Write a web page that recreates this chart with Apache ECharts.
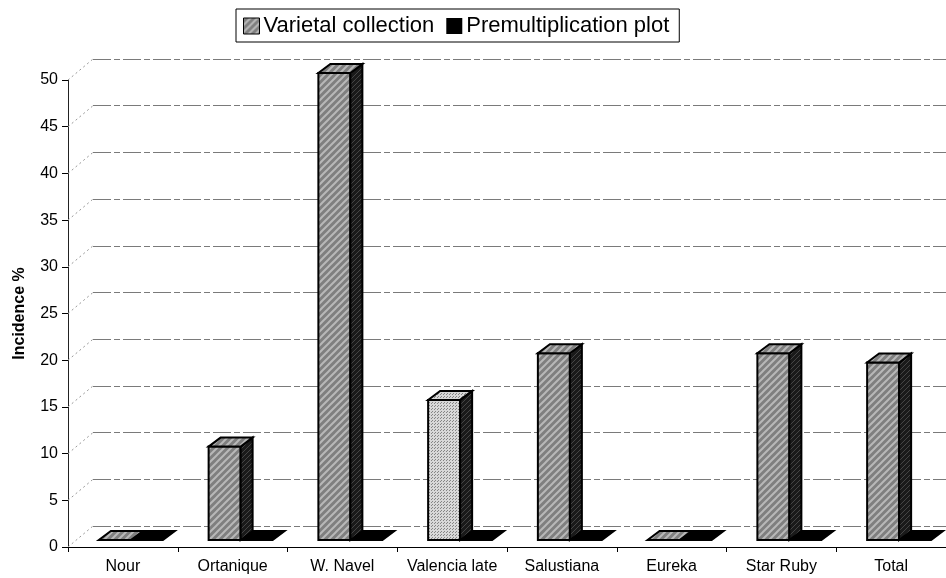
<!DOCTYPE html>
<html>
<head>
<meta charset="utf-8">
<script src="https://cdn.jsdelivr.net/npm/echarts@6/dist/echarts.min.js"></script>
<style>
html, body { margin: 0; padding: 0; background: #fff; }
#chart { width: 946px; height: 578px; }
</style>
</head>
<body>
<div id="chart"></div>
<script>
var categories = ['Nour', 'Ortanique', 'W. Navel', 'Valencia late', 'Salustiana', 'Eureka', 'Star Ruby', 'Total'];
var varietal = [0, 10, 50, 15, 20, 0, 20, 19];   // Varietal collection
var premult = [0, 0, 0, 0, 0, 0, 0, 0];          // Premultiplication plot
var yTicks = [0, 5, 10, 15, 20, 25, 30, 35, 40, 45, 50];

var chart = echarts.init(document.getElementById('chart'), null, { renderer: 'canvas' });

// 3d look: back wall offset and column depth, in px
var WALL_DX = 25, WALL_DY = 21;
var BAR_DX = 12, BAR_DY = 9;
var BAR_W = 32;
var SHIFT_X = 8, SHIFT_Y = 7;

// small canvas textures, like the hatch fills of the old chart
function stripes(bg, fg, size, width) {
    var c = document.createElement('canvas');
    c.width = size; c.height = size;
    var ctx = c.getContext('2d');
    ctx.fillStyle = bg;
    ctx.fillRect(0, 0, size, size);
    ctx.strokeStyle = fg;
    ctx.lineWidth = width;
    ctx.beginPath();
    ctx.moveTo(-1, size + 1); ctx.lineTo(size + 1, -1);
    ctx.moveTo(-1, 1); ctx.lineTo(1, -1);
    ctx.moveTo(size - 1, size + 1); ctx.lineTo(size + 1, size - 1);
    ctx.stroke();
    return { image: c, repeat: 'repeat' };
}
function dots(bg, fg) {
    var c = document.createElement('canvas');
    c.width = 3; c.height = 3;
    var ctx = c.getContext('2d');
    ctx.fillStyle = bg;
    ctx.fillRect(0, 0, 3, 3);
    ctx.fillStyle = fg;
    ctx.fillRect(0, 0, 1, 1);
    ctx.fillRect(2, 1, 1, 1);
    return { image: c, repeat: 'repeat' };
}

var hatch = stripes('#7f7f7f', '#b8b8b8', 7, 2);
var hatchSide = stripes('#1a1a1a', '#454545', 5, 1);
var light = dots('#d8d8d8', '#858585');

function box(offset, black) {
    return function (params, api) {
        var i = api.value(0), v = api.value(1);
        var base = api.coord([i, 0]);
        var top = api.coord([i, v]);
        var x0 = base[0] + SHIFT_X + offset, x1 = x0 + BAR_W;
        var yb = base[1] - SHIFT_Y, yt = top[1] - SHIFT_Y;
        var front = black ? '#000' : (categories[i] === 'Valencia late' ? light : hatch);
        var side = black ? '#000' : hatchSide;
        var kids = [];
        if (yb - yt > 0.5) {
            kids.push({
                type: 'rect',
                shape: { x: x0, y: yt, width: BAR_W, height: yb - yt },
                style: { fill: front, stroke: '#000', lineWidth: 2 }
            });
            kids.push({
                type: 'polygon',
                shape: { points: [[x1, yt], [x1 + BAR_DX, yt - BAR_DY], [x1 + BAR_DX, yb - BAR_DY], [x1, yb]] },
                style: { fill: side, stroke: '#000', lineWidth: 2 }
            });
        }
        kids.push({
            type: 'polygon',
            shape: { points: [[x0, yt], [x1, yt], [x1 + BAR_DX, yt - BAR_DY], [x0 + BAR_DX, yt - BAR_DY]] },
            style: { fill: front, stroke: '#000', lineWidth: 2 }
        });
        return { type: 'group', children: kids };
    };
}

var option = {
    backgroundColor: '#fff',
    textStyle: { fontFamily: 'Arial, "Liberation Sans", sans-serif', color: '#000' },
    legend: {
        data: [
            { name: 'Varietal collection', itemStyle: { color: hatch, borderColor: '#000', borderWidth: 1 } },
            { name: 'Premultiplication plot', itemStyle: { color: '#000' } }
        ],
        left: 236,
        top: 9,
        padding: [6, 10, 5, 7],
        borderColor: '#000',
        borderWidth: 1,
        borderRadius: 0,
        itemWidth: 16,
        itemHeight: 16,
        itemGap: 12,
        icon: 'rect',
        selectedMode: false,
        textStyle: { fontSize: 22, color: '#000', padding: [0, 0, 0, -1] }
    },
    grid: [
        { left: 68, right: 0, top: 80, bottom: 31 },
        { left: 68 + WALL_DX, right: -WALL_DX, top: 80 - WALL_DY, bottom: 31 + WALL_DY }
    ],
    xAxis: [
        {
            type: 'category',
            gridIndex: 0,
            data: categories,
            boundaryGap: true,
            axisLine: { lineStyle: { color: '#000', width: 1 } },
            axisTick: { show: true, interval: 0, length: 5, lineStyle: { color: '#000' } },
            axisLabel: { fontSize: 16, color: '#000', margin: 12, interval: 0 }
        },
        { type: 'value', gridIndex: 1, show: false, min: 0, max: 1 }
    ],
    yAxis: [
        {
            type: 'value',
            gridIndex: 0,
            min: 0,
            max: 50,
            interval: 5,
            name: 'Incidence %',
            nameLocation: 'middle',
            nameGap: 40,
            nameTextStyle: { fontSize: 16, fontWeight: 'bold', color: '#000' },
            axisLine: { show: true, lineStyle: { color: '#222', width: 1 } },
            axisTick: { show: true, length: 6, lineStyle: { color: '#000' } },
            axisLabel: { fontSize: 16, color: '#000', margin: 10 },
            splitLine: { show: false }
        },
        {
            type: 'value',
            gridIndex: 1,
            min: 0,
            max: 50,
            interval: 5,
            axisLine: { show: false },
            axisTick: { show: false },
            axisLabel: { show: false },
            splitLine: { show: true, lineStyle: { color: '#7a7a7a', width: 1, type: [18, 3, 6, 3] } }
        }
    ],
    series: [
        {
            // dotted lines from the axis ticks back to the wall
            name: 'wall',
            type: 'custom',
            xAxisIndex: 0,
            yAxisIndex: 0,
            silent: true,
            clip: false,
            data: yTicks.map(function (t) { return [0, t]; }),
            renderItem: function (params, api) {
                var p = api.coord([0, api.value(1)]);
                var x = params.coordSys.x;
                return {
                    type: 'line',
                    shape: { x1: x, y1: p[1], x2: x + WALL_DX, y2: p[1] - WALL_DY },
                    style: { stroke: '#999', lineWidth: 1, lineDash: [2, 3] }
                };
            }
        },
        {
            name: 'Premultiplication plot',
            type: 'custom',
            xAxisIndex: 0,
            yAxisIndex: 0,
            clip: false,
            itemStyle: { color: '#000' },
            data: premult.map(function (v, i) { return [i, v]; }),
            renderItem: box(0, true)
        },
        {
            name: 'Varietal collection',
            type: 'custom',
            xAxisIndex: 0,
            yAxisIndex: 0,
            clip: false,
            itemStyle: { color: hatch },
            data: varietal.map(function (v, i) { return [i, v]; }),
            renderItem: box(-BAR_W, false)
        }
    ]
};

chart.setOption(option);
</script>
</body>
</html>
